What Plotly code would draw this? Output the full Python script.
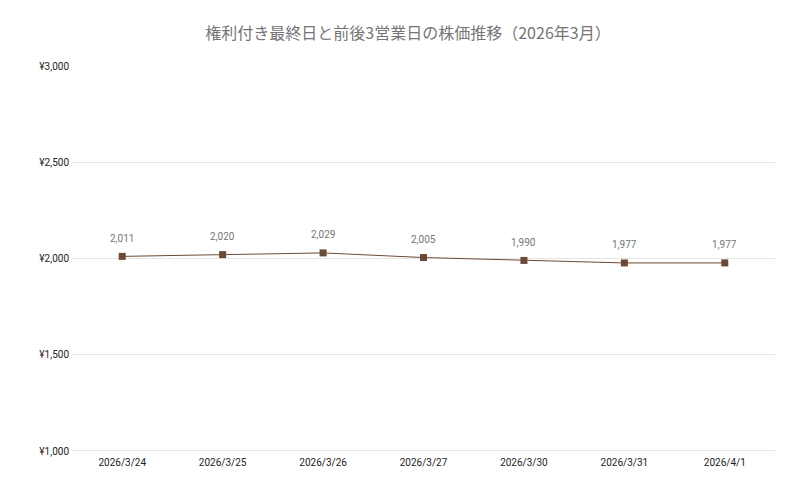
import plotly.graph_objects as go

dates = ["2026/3/24", "2026/3/25", "2026/3/26", "2026/3/27", "2026/3/30", "2026/3/31", "2026/4/1"]
prices = [2011, 2020, 2029, 2005, 1990, 1977, 1977]
y_ticks = [1000, 1500, 2000, 2500, 3000]
y_tick_labels = ["¥1,000", "¥1,500", "¥2,000", "¥2,500", "¥3,000"]

font = "Roboto, 'Noto Sans CJK JP', sans-serif"

fig = go.Figure()
fig.add_trace(go.Scatter(
    x=dates, y=prices,
    mode="lines+markers",
    line=dict(color="#6b4a35", width=1),
    marker=dict(symbol="square", size=7, color="#6b4a35"),
    showlegend=False,
))

# value labels above the points
for d, p in zip(dates, prices):
    fig.add_annotation(x=d, y=p, text=f"{p:,}", showarrow=False, yshift=18,
                       font=dict(size=10, color="#757575", family=font))

fig.update_layout(
    width=800, height=494,
    margin=dict(l=64, r=33, t=58, b=51),
    paper_bgcolor="white", plot_bgcolor="white",
    font=dict(family=font),
    title=dict(text="権利付き最終日と前後3営業日の株価推移（2026年3月）",
               x=0.5, xanchor="center", y=1 - 25 / 494, yanchor="middle",
               font=dict(size=16, color="#757575", family="'Noto Sans CJK JP', sans-serif")),
    xaxis=dict(type="category", range=[-0.5, 6.5], showgrid=False, showline=False, ticks="",
               tickfont=dict(size=10, color="#222222"), ticklabelstandoff=4),
    yaxis=dict(range=[1000, 3000], tickvals=y_ticks, ticktext=y_tick_labels,
               showgrid=True, gridcolor="#e6e6e6", gridwidth=1, zeroline=False,
               tickfont=dict(size=10, color="#222222"), ticklabelstandoff=2),
)
fig.add_hline(y=1000, line_color="#cccccc", line_width=1, layer="below")

fig.write_html("out.html")
